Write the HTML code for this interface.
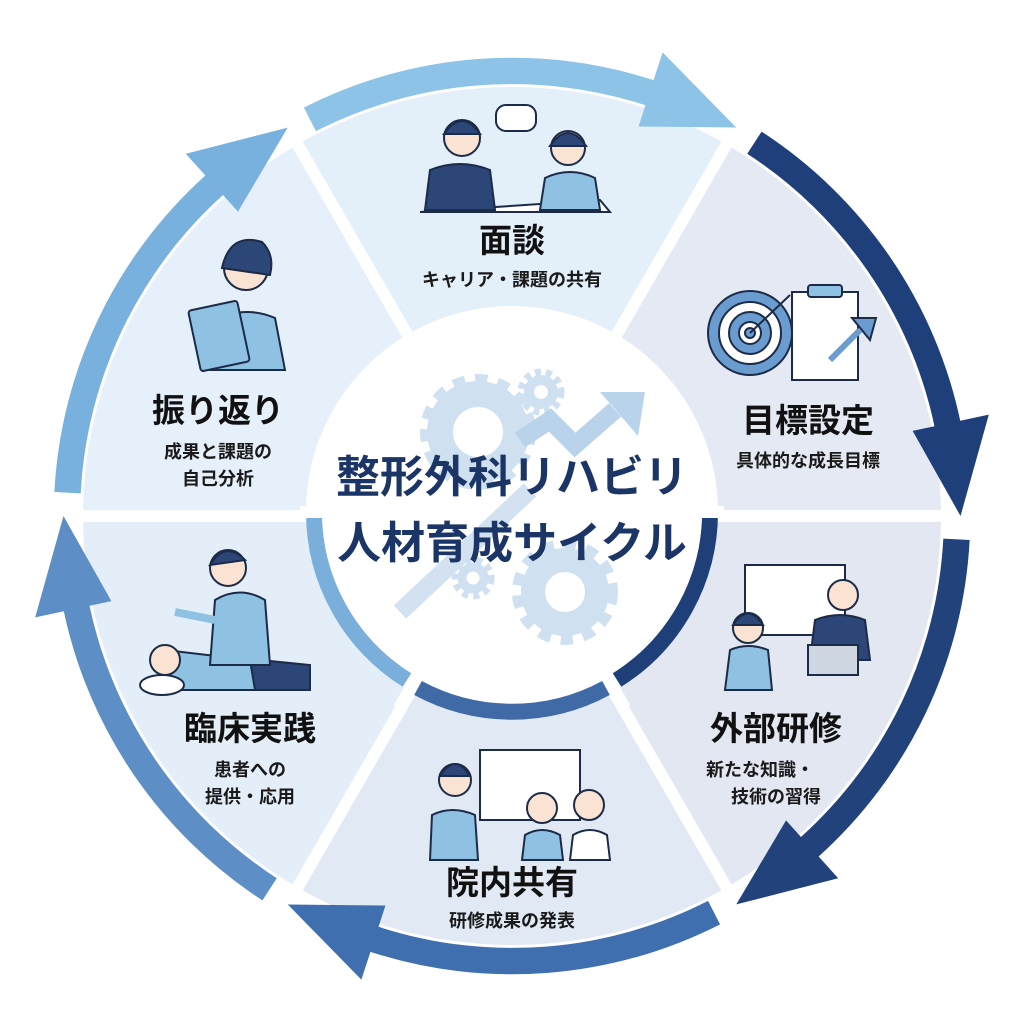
<!DOCTYPE html>
<html><head><meta charset="utf-8">
<style>
html,body{margin:0;padding:0;background:#fff;}
svg{display:block;}
text{font-family:"Liberation Sans","Noto Sans CJK JP",sans-serif;}
.t{font-weight:700;fill:#111;font-size:33px;text-anchor:middle;}
.s{font-weight:700;fill:#1a1a1a;font-size:18px;text-anchor:middle;}
.c{font-weight:700;fill:#1b3566;font-size:44px;text-anchor:middle;}
</style></head><body>
<svg width="1024" height="1024" viewBox="0 0 1024 1024" xmlns="http://www.w3.org/2000/svg">
<defs>
<path id="wedge" d="M512,512 L289,125.8 A446,446 0 0 1 735,125.8 Z" stroke="#fff" stroke-width="12" stroke-linejoin="miter"/>
<path id="arrow" d="M298.6,93.2 A470,470 0 0 1 657.2,65.0 L666.5,36.5 L742,113.6 L641.8,112.5 L648.9,90.7 A443,443 0 0 0 310.9,117.3 Z"/>
</defs>
<g transform="translate(512 516) scale(0.975) translate(-512 -512)">
<use href="#wedge" fill="#e3eff9"/>
<use href="#wedge" fill="#e4e9f4" transform="rotate(60 512 512)"/>
<use href="#wedge" fill="#e2e7f2" transform="rotate(120 512 512)"/>
<use href="#wedge" fill="#e1e9f4" transform="rotate(180 512 512)"/>
<use href="#wedge" fill="#e3eef8" transform="rotate(240 512 512)"/>
<use href="#wedge" fill="#e6f0fa" transform="rotate(300 512 512)"/>
<use href="#arrow" fill="#8cc3e6"/>
<use href="#arrow" fill="#1e3f7a" transform="rotate(60 512 512)"/>
<use href="#arrow" fill="#22427c" transform="rotate(120 512 512)"/>
<use href="#arrow" fill="#3f6fae" transform="rotate(180 512 512)"/>
<use href="#arrow" fill="#5d8fc6" transform="rotate(240 512 512)"/>
<use href="#arrow" fill="#79b1de" transform="rotate(300 512 512)"/>
</g>
<!-- center -->
<circle cx="512" cy="512" r="206" fill="#fff"/>
<path d="M710,512 A198,198 0 0 1 617,680" fill="none" stroke="#1f3f78" stroke-width="16"/>
<path d="M606,688 A198,198 0 0 1 418,688" fill="none" stroke="#3f6aa6" stroke-width="16"/>
<path d="M407,680 A198,198 0 0 1 314,512" fill="none" stroke="#7aafdc" stroke-width="16"/>
<line x1="512" y1="512" x2="625" y2="708" stroke="#fff" stroke-width="12"/>
<line x1="512" y1="512" x2="399" y2="708" stroke="#fff" stroke-width="12"/>
<line x1="700" y1="512" x2="724" y2="512" stroke="#fff" stroke-width="12"/>
<line x1="300" y1="512" x2="324" y2="512" stroke="#fff" stroke-width="12"/>
<circle cx="512" cy="512" r="190" fill="#fff"/>
<g fill="none" stroke="#cfe0f0">
<circle cx="478" cy="432" r="38" stroke-width="26"/>
<circle cx="478" cy="432" r="52" stroke-width="12" stroke-dasharray="12 10"/>
<circle cx="541" cy="392" r="12" stroke-width="10"/>
<circle cx="541" cy="392" r="20" stroke-width="7" stroke-dasharray="6 5"/>
<circle cx="565" cy="592" r="32" stroke-width="24"/>
<circle cx="565" cy="592" r="47" stroke-width="12" stroke-dasharray="12 10"/>
<circle cx="473" cy="578" r="11" stroke-width="9"/>
<circle cx="473" cy="578" r="18" stroke-width="7" stroke-dasharray="6 5"/>
</g>
<path d="M400,612 L530,490" stroke="#d2e2f1" stroke-width="18"/>
<path d="M520,440 L550,420 L575,445 L615,410" fill="none" stroke="#b9d3ea" stroke-width="18"/>
<path d="M600,392 L645,392 L638,436 Z" fill="#b9d3ea"/>
<text class="c" x="512" y="492">整形外科リハビリ</text>
<text class="c" x="512" y="558">人材育成サイクル</text>
<text class="t" x="512" y="252">面談</text>
<text class="s" x="512" y="286">キャリア・課題の共有</text>
<text class="t" x="808" y="432">目標設定</text>
<text class="s" x="808" y="467">具体的な成長目標</text>
<text class="t" x="776" y="740">外部研修</text>
<text class="s" x="760" y="776">新たな知識・</text>
<text class="s" x="776" y="803">技術の習得</text>
<text class="t" x="512" y="894">院内共有</text>
<text class="s" x="512" y="927">研修成果の発表</text>
<text class="t" x="250" y="740">臨床実践</text>
<text class="s" x="250" y="776">患者への</text>
<text class="s" x="250" y="803">提供・応用</text>
<text class="t" x="218" y="422">振り返り</text>
<text class="s" x="218" y="458">成果と課題の</text>
<text class="s" x="218" y="485">自己分析</text>
<g stroke="#1b2b48" stroke-width="2">
<path d="M420,212 L600,200 L610,212 Z" fill="#fff"/>
<path d="M425,210 L430,170 Q460,158 490,170 L495,210 Z" fill="#2c4677"/>
<circle cx="462" cy="138" r="18" fill="#fbe3d3"/>
<path d="M444,134 Q462,108 480,134 Z" fill="#2c4677"/>
<path d="M540,210 L545,178 Q570,166 595,178 L600,210 Z" fill="#8fc1e3"/>
<circle cx="568" cy="148" r="17" fill="#fbe3d3"/>
<path d="M550,146 Q568,120 586,146 Z" fill="#2c4677"/>
<rect x="496" y="105" width="40" height="26" rx="10" fill="#fff"/>
</g>
<g stroke="#1b2b48" stroke-width="2">
<circle cx="750" cy="333" r="42" fill="#6a9ccf"/>
<circle cx="750" cy="333" r="31" fill="#fff"/>
<circle cx="750" cy="333" r="21" fill="#6a9ccf"/>
<circle cx="750" cy="333" r="11" fill="#fff"/>
<circle cx="750" cy="333" r="5" fill="#6a9ccf"/>
<line x1="750" y1="333" x2="790" y2="295"/>
<rect x="792" y="292" width="66" height="88" fill="#fff"/>
<rect x="808" y="285" width="34" height="12" rx="3" fill="#8fc1e3"/>
<path d="M830,360 L860,330" stroke="#6a9ccf" stroke-width="6"/>
<path d="M852,318 L876,318 L870,340 Z" fill="#6a9ccf"/>
</g>
<g stroke="#1b2b48" stroke-width="2">
<rect x="745" y="565" width="100" height="70" fill="#fff"/>
<path d="M810,660 L815,620 Q840,610 865,620 L870,660 Z" fill="#2c4677"/>
<circle cx="843" cy="595" r="15" fill="#fbe3d3"/>
<rect x="808" y="645" width="50" height="30" fill="#cfd7e3"/>
<path d="M725,690 L730,650 Q748,642 768,650 L772,690 Z" fill="#8fc1e3"/>
<circle cx="748" cy="628" r="15" fill="#fbe3d3"/>
<path d="M733,625 Q748,602 763,625 Z" fill="#2c4677"/>
</g>
<g stroke="#1b2b48" stroke-width="2">
<rect x="480" y="750" width="100" height="70" fill="#fff"/>
<path d="M430,860 L432,815 Q452,805 475,815 L478,860 Z" fill="#8fc1e3"/>
<circle cx="455" cy="780" r="16" fill="#fbe3d3"/>
<path d="M440,776 Q455,752 470,776 Z" fill="#2c4677"/>
<path d="M522,860 L525,835 Q542,825 560,835 L563,860 Z" fill="#8fc1e3"/>
<circle cx="542" cy="808" r="15" fill="#fbe3d3"/>
<path d="M570,860 L573,835 Q590,825 607,835 L610,860 Z" fill="#fff"/>
<circle cx="589" cy="805" r="15" fill="#fbe3d3"/>
</g>
<g stroke="#1b2b48" stroke-width="2">
<path d="M148,680 L260,660 L310,665 L310,690 L150,690 Z" fill="#2c4677"/>
<path d="M165,650 L250,660 L255,690 L170,690 Z" fill="#8fc1e3"/>
<ellipse cx="162" cy="685" rx="22" ry="10" fill="#fff"/>
<circle cx="165" cy="660" r="15" fill="#fbe3d3"/>
<path d="M210,665 L215,600 Q240,585 265,600 L270,665 Z" fill="#8fc1e3"/>
<circle cx="228" cy="568" r="18" fill="#fbe3d3"/>
<path d="M210,565 Q225,540 245,560 Z" fill="#2c4677"/>
<path d="M175,612 L215,620" stroke-width="8" stroke="#8fc1e3"/>
</g>
<g stroke="#1b2b48" stroke-width="2">
<path d="M210,370 L215,320 Q245,305 275,318 L285,370 Z" fill="#8fc1e3"/>
<circle cx="246" cy="268" r="22" fill="#fbe3d3"/>
<path d="M222,268 Q230,232 262,242 Q275,255 270,275 Z" fill="#2c4677"/>
<rect x="194" y="305" width="50" height="62" rx="3" fill="#8fc1e3" transform="rotate(-12 219 336)"/>
</g>
</svg>
</body></html>
